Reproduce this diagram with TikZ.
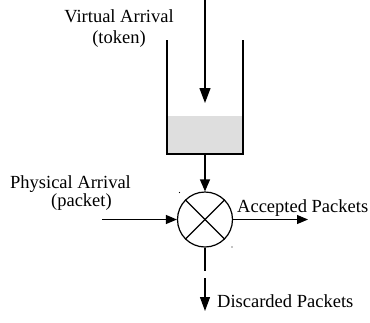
\documentclass[tikz,border=0pt]{standalone}
\usepackage{fontspec}
\setmainfont{Liberation Serif}
\usetikzlibrary{arrows.meta}
\definecolor{fillgray}{HTML}{DEDEDE}
\begin{document}
\begin{tikzpicture}[x=1pt,y=-1pt,
  lbl/.style={inner sep=0pt,font=\fontsize{18.5}{21}\selectfont},
  ln/.style={line width=1.2pt,line cap=butt},
  bigarr/.style={ln,-{Triangle[width=11pt,length=15pt]}},
  smallarr/.style={ln,-{Triangle[width=9pt,length=11pt]}},
  midarr/.style={ln,-{Triangle[width=10pt,length=12pt]}},
  mux/.style={circle,draw,line width=1.2pt,minimum size=55pt,inner sep=0pt}
]
\useasboundingbox (0,0) rectangle (370,322);
% bucket
\fill[fillgray] (167,116) rectangle (243,154);
\draw[line width=1.5pt] (167,40) coordinate (bl) -- (167,154) -- (243,154) -- (243,40) coordinate (br);
\coordinate (bbot) at (205,154);
\coordinate (tokin) at (205,0);
\coordinate (tokend) at (205,103);
% labels
\node[lbl,anchor=base,align=center] (va) at (119,43) {Virtual Arrival\\(token)};
\node[lbl,anchor=base,align=left,font=\fontsize{18.5}{16.5}\selectfont] (pa) at (70.5,206.5) {Physical Arrival\\\hspace*{41pt}(packet)};
\node[lbl,anchor=base west] (acc) at (237,212) {Accepted Packets};
\node[lbl,anchor=base west] (dis) at (217,307) {Discarded Packets};
% multiplier
\node[mux] (m) at (205,219.5) {};
\draw[ln] (m.45) -- (m.225);
\draw[ln] (m.135) -- (m.315);
% arrows
\draw[bigarr] (tokin) -- (tokend);
\draw[midarr] (bbot) -- (m.north);
\coordinate (pin) at (102,219.5);
\draw[smallarr] (pin) -- (m.west);
\coordinate (aout) at (308,219.5);
\draw[smallarr] (m.east) -- (aout);
\coordinate (dmid) at (205,271);
\draw[ln] (m.south) -- (dmid);
\coordinate (dstart) at (205,278);
\coordinate (dend) at (205,311);
\draw[ln,-{Triangle[width=10pt,length=14pt]}] (dstart) -- (dend);
% tiny specks
\fill (179.5,192.5) circle (0.6pt);
\fill (232,247) circle (0.6pt);
\end{tikzpicture}
\end{document}
